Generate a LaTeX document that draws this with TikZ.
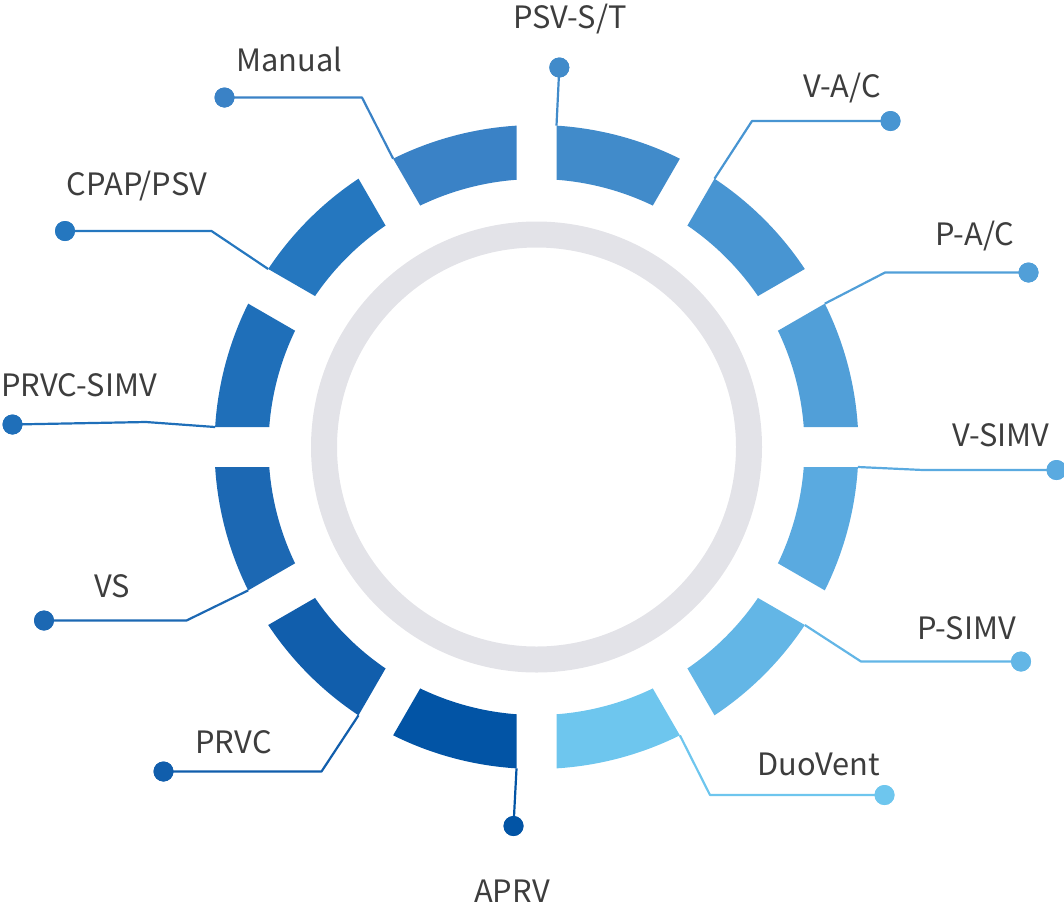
\documentclass[tikz,border=0pt]{standalone}
\usepackage{fontspec}
\newfontfamily\labelfont{Noto Sans CJK SC}

% segment colours, darkest (APRV) to lightest (DuoVent)
\definecolor{cAPRV}{HTML}{0254A5}
\definecolor{cPRVC}{HTML}{115EAC}
\definecolor{cVS}{HTML}{1C68B3}
\definecolor{cPRVCSIMV}{HTML}{1F6FB9}
\definecolor{cCPAP}{HTML}{2577BF}
\definecolor{cMAN}{HTML}{3A82C6}
\definecolor{cPST}{HTML}{418BCA}
\definecolor{cVAC}{HTML}{4895D2}
\definecolor{cPAC}{HTML}{519FD8}
\definecolor{cVSIMV}{HTML}{5AAAE0}
\definecolor{cPSIMV}{HTML}{63B6E6}
\definecolor{cDUO}{HTML}{6EC6EE}
\definecolor{ringgray}{HTML}{E3E3E8}
\definecolor{labelgray}{HTML}{3D3D3D}

\begin{document}
\begin{tikzpicture}[x=1pt,y=-1pt,
  lbl/.style={font=\labelfont\fontsize{30.8}{34}\selectfont, text=labelgray, anchor=base, inner sep=0pt},
  dot/.style={circle, inner sep=0pt, minimum size=20pt},
  link/.style={line width=2.2pt, line join=round}]
\useasboundingbox (0,0) rectangle (1064,911);

% inner grey ring
\draw[ringgray, line width=26pt] (536.5,447) circle[radius=212.5];

% twelve ring segments separated by parallel-sided gaps
\begin{scope}[shift={(536.5,447)}, yscale=-1]
  \foreach \n/\a/\c in {pst/60/cPST, vac/30/cVAC, pac/0/cPAC, vsimv/-30/cVSIMV,
                        psimv/-60/cPSIMV, duo/-90/cDUO, aprv/-120/cAPRV, prvc/-150/cPRVC,
                        vs/180/cVS, prvcsimv/150/cPRVCSIMV, cpap/120/cCPAP, man/90/cMAN} {
    \pgfmathsetmacro\b{\a+30}
    \fill[\c] (\b-3.56:322) arc[start angle=\b-3.56, end angle=\a+3.56, radius=322]
      -- (\a+4.28:268) arc[start angle=\a+4.28, end angle=\b-4.28, radius=268] -- cycle;
    \coordinate (k-\n) at (\b-3.56:322);
  }
\end{scope}

% end dots
\node[dot, fill=cPST]      (d-pst)      at (559.3,67.5) {};
\node[dot, fill=cVAC]      (d-vac)      at (890.5,121) {};
\node[dot, fill=cPAC]      (d-pac)      at (1028.5,272.5) {};
\node[dot, fill=cVSIMV]    (d-vsimv)    at (1056.5,470) {};
\node[dot, fill=cPSIMV]    (d-psimv)    at (1021,661.5) {};
\node[dot, fill=cDUO]      (d-duo)      at (884.5,795) {};
\node[dot, fill=cAPRV]     (d-aprv)     at (513.5,826) {};
\node[dot, fill=cPRVC]     (d-prvc)     at (163.5,771.5) {};
\node[dot, fill=cVS]       (d-vs)       at (44,620.5) {};
\node[dot, fill=cPRVCSIMV] (d-prvcsimv) at (12.5,424.5) {};
\node[dot, fill=cCPAP]     (d-cpap)     at (65,231) {};
\node[dot, fill=cMAN]      (d-man)      at (224.5,97.5) {};

% bend points of the leader lines
\coordinate (b-vac)      at (752,121);
\coordinate (b-pac)      at (885,272.5);
\coordinate (b-vsimv)    at (923,470);
\coordinate (b-psimv)    at (861,661.5);
\coordinate (b-duo)      at (710,795);
\coordinate (b-prvc)     at (321.5,771.5);
\coordinate (b-vs)       at (186.5,620.5);
\coordinate (b-prvcsimv) at (146,422);
\coordinate (b-cpap)     at (211.5,231);
\coordinate (b-man)      at (362,97.5);

% leader lines
\draw[link, cPST]      (k-pst) -- (d-pst.center);
\draw[link, cVAC]      (k-vac) -- (b-vac) -- (d-vac.center);
\draw[link, cPAC]      (k-pac) -- (b-pac) -- (d-pac.center);
\draw[link, cVSIMV]    (k-vsimv) -- (b-vsimv) -- (d-vsimv.center);
\draw[link, cPSIMV]    (k-psimv) -- (b-psimv) -- (d-psimv.center);
\draw[link, cDUO]      (k-duo) -- (b-duo) -- (d-duo.center);
\draw[link, cAPRV]     (k-aprv) -- (d-aprv.center);
\draw[link, cPRVC]     (k-prvc) -- (b-prvc) -- (d-prvc.center);
\draw[link, cVS]       (k-vs) -- (b-vs) -- (d-vs.center);
\draw[link, cPRVCSIMV] (k-prvcsimv) -- (b-prvcsimv) -- (d-prvcsimv.center);
\draw[link, cCPAP]     (k-cpap) -- (b-cpap) -- (d-cpap.center);
\draw[link, cMAN]      (k-man) -- (b-man) -- (d-man.center);

% redraw dots above the lines
\foreach \n/\c in {pst/cPST, vac/cVAC, pac/cPAC, vsimv/cVSIMV, psimv/cPSIMV, duo/cDUO,
                   aprv/cAPRV, prvc/cPRVC, vs/cVS, prvcsimv/cPRVCSIMV, cpap/cCPAP, man/cMAN}
  \fill[\c] (d-\n) circle[radius=10];

% labels
\node[lbl] (t-pst)      at (570,28)      {PSV-S/T};
\node[lbl] (t-vac)      at (842,97)      {V-A/C};
\node[lbl] (t-pac)      at (975,245.5)   {P-A/C};
\node[lbl] (t-vsimv)    at (1001,446)    {V-SIMV};
\node[lbl] (t-psimv)    at (966.5,639.5) {P-SIMV};
\node[lbl] (t-duo)      at (819,775)     {DuoVent};
\node[lbl] (t-aprv)     at (512,902)     {APRV};
\node[lbl] (t-prvc)     at (233.5,753.5) {PRVC};
\node[lbl] (t-vs)       at (112,597.5)   {VS};
\node[lbl] (t-prvcsimv) at (79,396.5)    {PRVC-SIMV};
\node[lbl] (t-cpap)     at (137,195.5)   {CPAP/PSV};
\node[lbl] (t-man)      at (289.5,71)    {Manual};
\end{tikzpicture}
\end{document}
